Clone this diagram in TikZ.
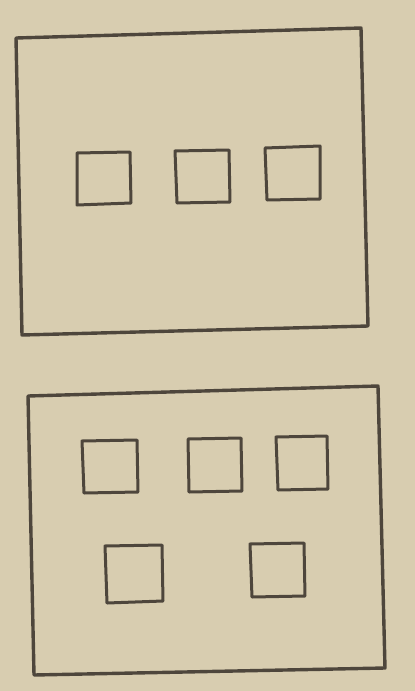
\documentclass[tikz,border=0pt]{standalone}
\begin{document}
\begin{tikzpicture}[x=1pt,y=-1pt,
  pen/.style={draw=ink,line width=3pt,line join=round,line cap=round},
  box/.style={pen,line width=3.4pt}]
\definecolor{paper}{HTML}{D8CDB0}
\definecolor{ink}{HTML}{4E463C}
\fill[paper] (0,0) rectangle (415,691);
\useasboundingbox (0,0) rectangle (415,691);
% top frame
\draw[box] (16,38) -- (361,28) -- (368,326) -- (22,335) -- cycle;
\draw[pen] (77,153) -- (130,152) -- (131,203) -- (77,205) -- cycle;
\draw[pen] (175,151) -- (229,150) -- (230,202) -- (177,203) -- cycle;
\draw[pen] (265,148) -- (320,146) -- (320,199) -- (267,200) -- cycle;
% bottom frame
\draw[box] (28,396) -- (378,386) -- (385,668) -- (34,675) -- cycle;
\draw[pen] (82,441) -- (137,440) -- (138,492) -- (84,493) -- cycle;
\draw[pen] (188,439) -- (241,438) -- (242,491) -- (189,492) -- cycle;
\draw[pen] (276,437) -- (327,436) -- (328,489) -- (278,490) -- cycle;
\draw[pen] (105,546) -- (162,545) -- (163,601) -- (107,603) -- cycle;
\draw[pen] (250,544) -- (304,543) -- (305,596) -- (252,597) -- cycle;
\end{tikzpicture}
\end{document}
